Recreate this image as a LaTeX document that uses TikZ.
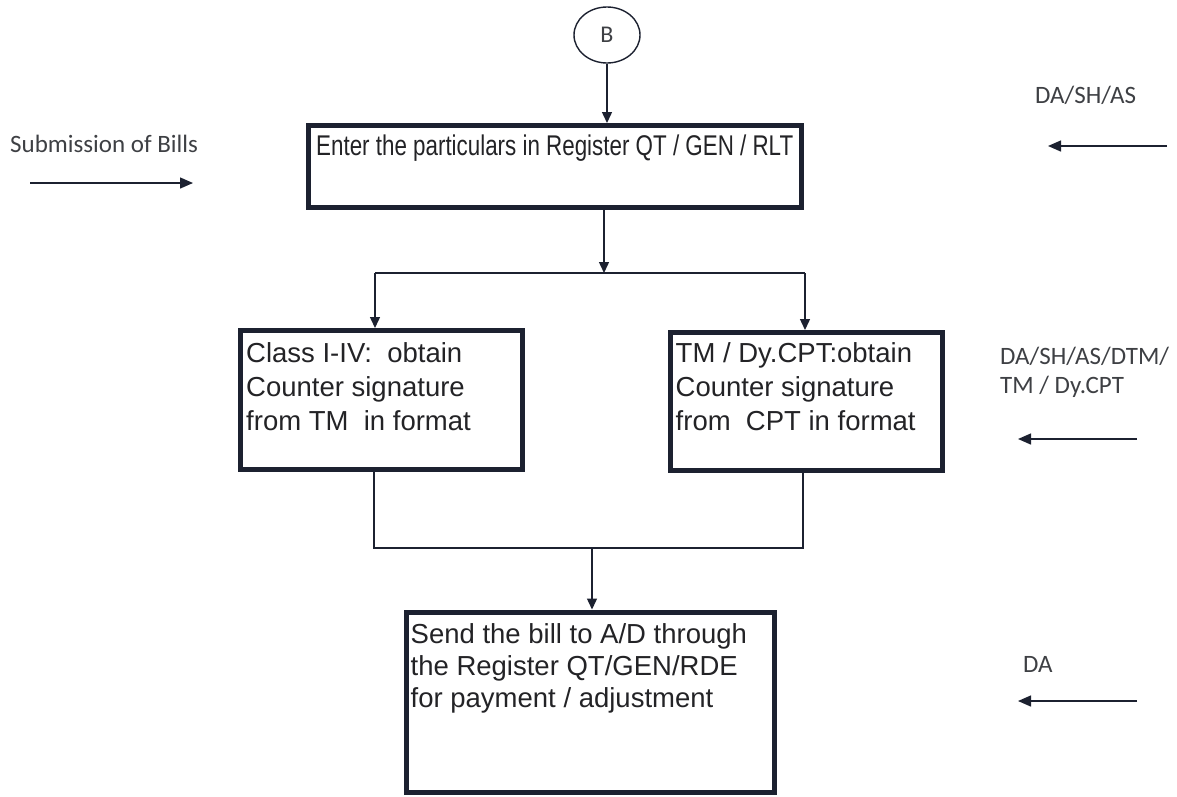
\documentclass[tikz,border=0pt]{standalone}
\usepackage{fontspec}
\setmainfont{Liberation Sans}
\newfontfamily\boxfont{Liberation Sans}
\newfontfamily\narrowfont[FakeStretch=0.785]{Liberation Sans}
\newfontfamily\labelfont{Carlito}
\usetikzlibrary{arrows.meta,shapes.geometric}
\definecolor{ink}{RGB}{28,33,48}
\definecolor{txt}{RGB}{35,35,38}
\definecolor{lbl}{RGB}{62,64,68}

\begin{document}
\begin{tikzpicture}[x=1pt,y=-1pt,
  stepbox/.style={draw=ink, line width=5pt, inner sep=0pt, rectangle},
  flow/.style={draw=ink, line width=1.4pt},
  tip/.style={-{Triangle[width=10pt,length=11pt]}},
  sidetip/.style={-{Triangle[width=11pt,length=13pt]}},
  % multi-line texts are placed by the baseline of their last line
  boxtext/.style={anchor=base west, inner sep=0pt, text=txt, align=left,
    font=\boxfont\fontsize{27.5}{34}\selectfont},
  sidetext/.style={anchor=base west, inner sep=0pt, text=lbl, align=left,
    font=\labelfont\fontsize{25}{29}\selectfont},
  ]
\useasboundingbox (0,0) rectangle (1177,796);

% connector circle
\node[draw=ink, line width=1.4pt, ellipse, minimum width=66pt, minimum height=56pt,
      inner sep=0pt, text=lbl, font=\labelfont\fontsize{24}{28}\selectfont] (b) at (607,35) {B};

% process boxes
\node[stepbox, minimum width=493pt, minimum height=82pt] (enter) at (554.5,166.5) {};
\node[boxtext, font=\narrowfont\fontsize{28.5}{34}\selectfont]
  (entertext) at ([shift={(10.5,32.5)}]enter.north west)
  {Enter the particulars in Register QT / GEN / RLT};

\node[stepbox, minimum width=282pt, minimum height=139pt] (cls) at (381.5,400) {};
\node[boxtext] (clstext) at ([shift={(8,102)}]cls.north west)
  {Class I-IV:\ \ obtain\\Counter signature\\from TM\ \ in format};

\node[stepbox, minimum width=272pt, minimum height=138pt] (tm) at (806.5,401.5) {};
\node[boxtext] (tmtext) at ([shift={(7.5,100)}]tm.north west)
  {TM / Dy.CPT:obtain\\Counter signature\\from\ \ CPT in format};

\node[stepbox, minimum width=368pt, minimum height=180pt] (send) at (590,702) {};
\node[boxtext, font=\boxfont\fontsize{27.5}{32}\selectfont]
  (sendtext) at ([shift={(7,98)}]send.north west)
  {Send the bill to A/D through\\the Register QT/GEN/RDE\\for payment / adjustment};

% junction points
\coordinate (split) at (604,273);
\coordinate (forkL) at (375,273);
\coordinate (forkR) at (805,273);
\coordinate (joinL) at (374,548);
\coordinate (joinR) at (803,548);
\coordinate (joinM) at (592,548);

% flow connectors
\draw[flow, tip] (b.south) -- (b.south |- enter.north);
\draw[flow, tip] (split |- enter.south) -- (split);
\draw[flow] (forkL) -- (forkR);
\draw[flow, tip] (forkL) -- (forkL |- cls.north);
\draw[flow, tip] (forkR) -- (forkR |- tm.north);
\draw[flow] (joinL |- cls.south) -- (joinL) -- (joinR) -- (joinR |- tm.south);
\draw[flow, tip] (joinM) -- (joinM |- send.north);

% side annotations
\node[sidetext] (bills) at (10,152) {Submission of Bills};
\coordinate (billsA) at (30,183);
\coordinate (billsB) at (193,183);
\draw[flow, sidetip] (billsA) -- (billsB);

\node[sidetext] (role1) at (1035,103) {DA/SH/AS};
\coordinate (role1A) at (1167,146);
\coordinate (role1B) at (1048,146);
\draw[flow, sidetip] (role1A) -- (role1B);

\node[sidetext] (role2) at (1000,393) {DA/SH/AS/DTM/\\TM / Dy.CPT};
\coordinate (role2A) at (1137,439);
\coordinate (role2B) at (1018,439);
\draw[flow, sidetip] (role2A) -- (role2B);

\node[sidetext] (role3) at (1023,672) {DA};
\coordinate (role3A) at (1137,701);
\coordinate (role3B) at (1018,701);
\draw[flow, sidetip] (role3A) -- (role3B);
\end{tikzpicture}
\end{document}
